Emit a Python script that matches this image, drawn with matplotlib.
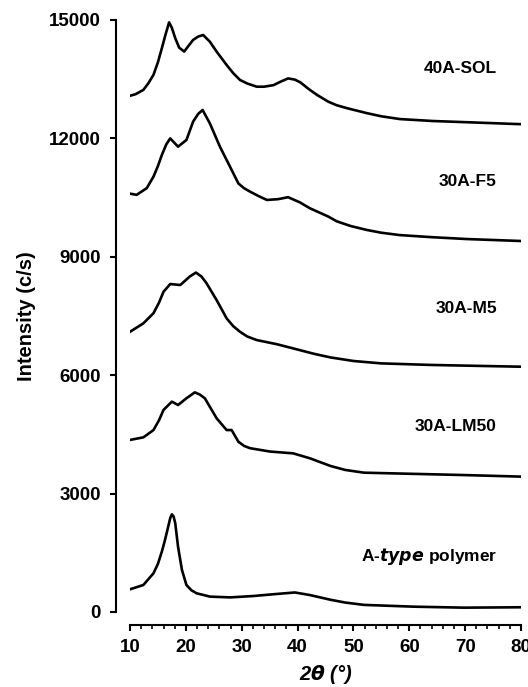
import matplotlib
matplotlib.use("Agg")
import matplotlib.pyplot as plt
from matplotlib.ticker import MultipleLocator

plt.rcParams['font.family'] = ['Liberation Sans', 'DejaVu Sans']
plt.rcParams['font.weight'] = 'bold'

# XRD patterns (2theta in degrees, intensity in c/s)
sol_x = [10, 11, 12.4, 13.3, 14.2, 15.0, 15.7, 16.4, 17.0, 17.5, 18.1, 18.8, 19.7, 20.5, 21.3, 22.2,
         23.1, 24.3, 25.5, 26.4, 27.3, 28.5, 29.7, 31, 32.7, 34, 35.7, 37, 38.3, 39.5, 40.5, 42,
         43.5, 45.5, 47, 49, 52.4, 55, 58.3, 64.3, 70.3, 80]
sol_y = [13080, 13120, 13230, 13400, 13610, 13930, 14285, 14650, 14940, 14800, 14540, 14300, 14200,
         14350, 14495, 14580, 14620, 14450, 14200, 14030, 13860, 13650, 13480, 13390, 13310, 13310,
         13350, 13440, 13520, 13490, 13420, 13250, 13100, 12930, 12840, 12760, 12640, 12560, 12490,
         12440, 12410, 12360]

f5_x = [10, 11.2, 13.0, 14.2, 15.0, 15.7, 16.5, 17.2, 18.6, 20.1, 21.3, 22.2, 23.0, 24.3, 26.1,
        27.9, 29.4, 30.4, 31.5, 33, 34.5, 36.5, 38.3, 40.4, 42.2, 45.5, 47, 49.5, 52.4, 55, 58.3,
        64.3, 70.3, 80]
f5_y = [10600, 10570, 10740, 11030, 11300, 11580, 11850, 12000, 11790, 11960, 12425, 12620, 12720,
        12380, 11790, 11285, 10860, 10740, 10650, 10540, 10440, 10460, 10510, 10380, 10230, 10020,
        9900, 9780, 9680, 9610, 9550, 9495, 9450, 9400]

m5_x = [10, 12.4, 14.2, 15.2, 16.0, 17.2, 19.0, 20.7, 21.8, 22.8, 23.7, 25.5, 27.3, 28.5, 29.7,
        31, 32.7, 36.3, 40, 43, 45.9, 50, 54.9, 63.8, 80]
m5_y = [7100, 7315, 7570, 7840, 8115, 8310, 8285, 8500, 8600, 8500, 8330, 7905, 7440, 7240, 7100,
        6980, 6890, 6785, 6650, 6540, 6450, 6360, 6300, 6260, 6215]

lm50_x = [10, 12.4, 14.2, 15.2, 16.0, 17.5, 18.6, 20.1, 21.6, 22.5, 23.4, 25.5, 27.3, 28.2, 29.4,
          30.4, 31.5, 35.1, 39.2, 42.2, 45.9, 48.5, 51.9, 60.8, 69.8, 80]
lm50_y = [4360, 4425, 4610, 4860, 5120, 5330, 5245, 5415, 5565, 5510, 5415, 4910, 4610, 4610, 4315,
          4210, 4150, 4065, 4020, 3895, 3700, 3600, 3530, 3500, 3470, 3430]

atype_x = [10, 12.4, 14.2, 15.0, 15.7, 16.2, 16.7, 17.2, 17.5, 17.8, 18.1, 18.6, 19.3, 20.1, 21.0,
           21.9, 24.3, 27.9, 32.1, 35.7, 39.5, 42.2, 45.9, 48.5, 51.9, 60.8, 69.8, 80]
atype_y = [575, 685, 980, 1220, 1530, 1790, 2080, 2380, 2475, 2420, 2250, 1655, 1065, 685, 550,
           475, 390, 370, 405, 450, 495, 430, 310, 240, 180, 135, 110, 120]

labels = ['40A-SOL', '30A-F5', '30A-M5', '30A-LM50', 'A-$\\mathbfit{type}$ polymer']
label_y = [13760, 10910, 7680, 4710, 1400]

fig = plt.figure(figsize=(5.28, 6.87), dpi=100)
ax = fig.add_axes([130/528, 1-612/687, 391/528, 592/687])

for xs, ys in [(sol_x, sol_y), (f5_x, f5_y), (m5_x, m5_y), (lm50_x, lm50_y), (atype_x, atype_y)]:
    ax.plot(xs, ys, color='black', lw=1.9, solid_joinstyle='round')

for txt, yy in zip(labels, label_y):
    ax.text(75.7, yy, txt, ha='right', va='center', fontsize=12.5, fontweight='bold')

ax.set_xlim(10, 80)
ax.set_ylim(0, 15000)
ax.set_yticks([0, 3000, 6000, 9000, 12000, 15000])
ax.set_xticks(range(10, 81, 10))
ax.xaxis.set_minor_locator(MultipleLocator(2))

ax.spines['top'].set_visible(False)
ax.spines['right'].set_visible(False)
ax.spines['left'].set_position(('outward', 10))
ax.spines['bottom'].set_position(('outward', 9.7))
for s in ['left', 'bottom']:
    ax.spines[s].set_linewidth(1.5)

ax.tick_params(axis='y', which='major', length=4, width=1.5, labelsize=13.5, pad=7)
ax.tick_params(axis='x', which='major', length=4, width=1.5, labelsize=13.5, pad=6)
ax.tick_params(axis='x', which='minor', length=3, width=1.2)

ax.set_ylabel('Intensity (c/s)', fontsize=14.5, fontweight='bold', labelpad=9)
ax.set_xlabel('2$\\mathbfit{\\theta}$ (°)', fontsize=14.5, fontweight='bold', style='italic', labelpad=5)

fig.savefig('out.png', dpi=100)
